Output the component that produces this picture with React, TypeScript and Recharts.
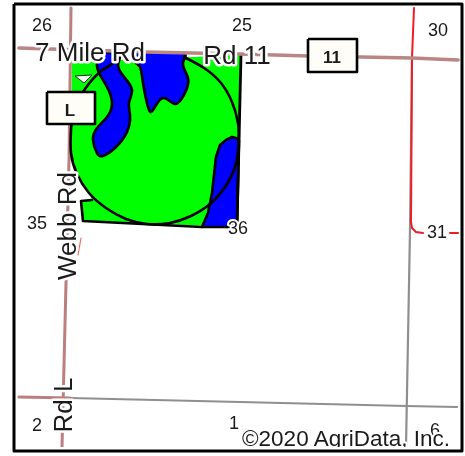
import React from 'react';
import { ScatterChart, Scatter, XAxis, YAxis } from 'recharts';

type P = { x: number; y: number };
const pts = (a: number[][]): P[] => a.map(([x, y]) => ({ x, y }));

const frame = pts([[14, 4], [462, 4], [462, 451], [14, 451], [14, 4]]);
const bottomStrip = pts([[15, 447], [460, 447], [460, 450], [15, 450], [15, 447]]);

const brickWest = pts([[71, 8], [69, 160], [66, 283], [62, 447]]);
const brickNorth = pts([[19, 48], [145, 52], [240, 54], [309, 56], [412, 58], [458, 60]]);
const brickSouth = pts([[19, 397], [70, 398]]);
const graySouth = pts([[70, 398], [240, 402], [406, 406], [457, 407]]);
const grayEast = pts([[412, 60], [410, 230], [406, 447]]);
const redEast = pts([[414, 8], [412, 58], [411, 222], [412, 228], [416, 232], [423, 233]]);
const redEastStub = pts([[450, 233], [458, 233]]);
const redTick = pts([[81, 238], [78, 255]]);

const greenField = pts([[72, 62], [241, 55], [237, 227], [83, 221], [81, 201], [92, 200], [89, 193], [77, 174], [71, 153], [71, 130], [72, 62]]);
const whiteNotch = pts([[75, 76], [92, 75], [84, 83], [75, 76]]);
const blueWest = pts([[102, 53], [97, 63], [100, 75], [107, 87], [112, 103], [107, 117], [97, 128], [93, 140], [97, 153], [103, 156], [115, 148], [127, 132], [130, 115], [129, 103], [132, 90], [125, 78], [118, 65], [120, 53], [102, 53]]);
const blueMiddle = pts([[135, 53], [135, 62], [140, 67], [143, 83], [148, 107], [153, 110], [163, 98], [175, 104], [185, 93], [188, 78], [183, 63], [182, 53], [135, 53]]);
const blueEast = pts([[239, 140], [236, 138], [232, 137], [226, 140], [220, 145], [216, 157], [214, 175], [212, 193], [208, 213], [202, 227], [237, 227], [239, 140]]);
const soilArc = pts([[184, 57], [204, 68], [221, 83], [232, 102], [238, 123], [238.5, 145], [235, 167], [225, 187], [210, 204], [191, 216], [170, 223], [147, 224], [126, 219], [106, 208], [89, 193], [77, 174], [71, 153], [71, 130], [74, 109], [85, 89], [100, 72], [119, 60]]);
const fieldEastEdge = pts([[241, 55], [237, 227]]);
const fieldSouthEdge = pts([[202, 227], [83, 221], [81, 201], [92, 200]]);
const boxL = pts([[47, 92], [95, 92], [95, 124], [47, 124], [47, 92]]);
const box11 = pts([[308, 39], [357, 39], [357, 72], [308, 72], [308, 39]]);

const sectionLabels = [
  { x: 42, y: 25, t: '26' }, { x: 242, y: 25, t: '25' }, { x: 37, y: 223, t: '35' },
  { x: 238, y: 228, t: '36' }, { x: 438, y: 30, t: '30' }, { x: 437, y: 232, t: '31' },
  { x: 37, y: 425, t: '2' }, { x: 234, y: 423, t: '1' }, { x: 435, y: 430, t: '6' },
];
const roadLabels = [
  { x: 90, y: 52, t: '7 Mile Rd', r: 0 }, { x: 237, y: 55, t: 'Rd 11', r: 0 },
  { x: 67, y: 226, t: 'Webb Rd', r: -90 }, { x: 63, y: 405, t: 'Rd L', r: -90 },
];
const boxLabels = [{ x: 70, y: 110, t: 'L' }, { x: 332, y: 57, t: '11' }];
const creditLabel = [{ x: 346, y: 438, t: '©2020 AgriData, Inc.' }];

const FONT = '"Liberation Sans", Arial, sans-serif';
const noDot = () => <g />;

const line = (data: P[], stroke: string, width: number, joint = 'linear') => (
  <Scatter data={data} dataKey="y" isAnimationActive={false} shape={noDot} lineJointType={joint as any}
    line={{ stroke, strokeWidth: width, fill: 'none', strokeLinejoin: 'round', strokeLinecap: 'round' } as any} />
);
const poly = (data: P[], fill: string, stroke: string, width: number, joint = 'linear') => (
  <Scatter data={data} dataKey="y" isAnimationActive={false} shape={noDot} lineJointType={joint as any}
    line={{ stroke, strokeWidth: width, fill, strokeLinejoin: 'round' } as any} />
);
const text = (size: number, weight: string, halo: number) => (p: any) => {
  const r = p.payload.r || 0;
  return (
    <text x={p.cx} y={p.cy} transform={r ? `rotate(${r} ${p.cx} ${p.cy})` : undefined} textAnchor="middle" dominantBaseline="central"
      fontFamily={FONT} fontSize={size} fontWeight={weight} fill="#1a1a1a"
      style={halo ? { stroke: '#ffffff', strokeWidth: halo, paintOrder: 'stroke', strokeLinejoin: 'round' } : undefined}>{p.payload.t}</text>
  );
};
const labels = (data: any[], size: number, weight: string, halo: number) => (
  <Scatter data={data} dataKey="y" isAnimationActive={false} shape={text(size, weight, halo)} />
);

export default function App() {
  return (
    <div style={{ position: 'absolute', left: 0, top: 0, width: 465, height: 456, background: '#fff', filter: 'blur(0.45px)' }}>
      <ScatterChart width={465} height={456} margin={{ top: 0, right: 0, bottom: 0, left: 0 }}>
        <XAxis type="number" dataKey="x" domain={[0, 465]} hide allowDataOverflow />
        <YAxis type="number" dataKey="y" domain={[0, 456]} reversed hide allowDataOverflow />
        {line(grayEast, '#8f8f8f', 2.2)}
        {line(graySouth, '#8f8f8f', 2.2)}
        {line(brickWest, '#bb7f7f', 3)}
        {line(brickSouth, '#bb7f7f', 3)}
        {line(redEast, '#f01c24', 2)}
        {line(redEastStub, '#f01c24', 2)}
        {line(redTick, '#f06a6a', 1.2)}
        {poly(greenField, '#00ff00', 'none', 0)}
        {poly(whiteNotch, '#ffffff', '#000000', 0.8)}
        {poly(blueWest, '#0000ff', '#000000', 2.6, 'natural')}
        {poly(blueMiddle, '#0000ff', '#000000', 2.6, 'natural')}
        {poly(blueEast, '#0000ff', '#000000', 2.6)}
        {line(soilArc, '#000000', 2.6, 'natural')}
        {line(fieldEastEdge, '#000000', 2.8)}
        {line(fieldSouthEdge, '#000000', 2.6)}
        {line(brickNorth, '#b98585', 3.6)}
        {poly(boxL, '#fffdf8', '#000000', 2.6)}
        {poly(box11, '#fffdf8', '#000000', 2.6)}
        {labels(sectionLabels, 18, 'normal', 4)}
        {labels(roadLabels, 26, 'normal', 5)}
        {labels(boxLabels, 17, 'bold', 0)}
        {labels(creditLabel, 22.5, 'normal', 4)}
        {poly(bottomStrip, '#ffffff', 'none', 0)}
        {poly(frame, 'none', '#000000', 3)}
      </ScatterChart>
    </div>
  );
}
